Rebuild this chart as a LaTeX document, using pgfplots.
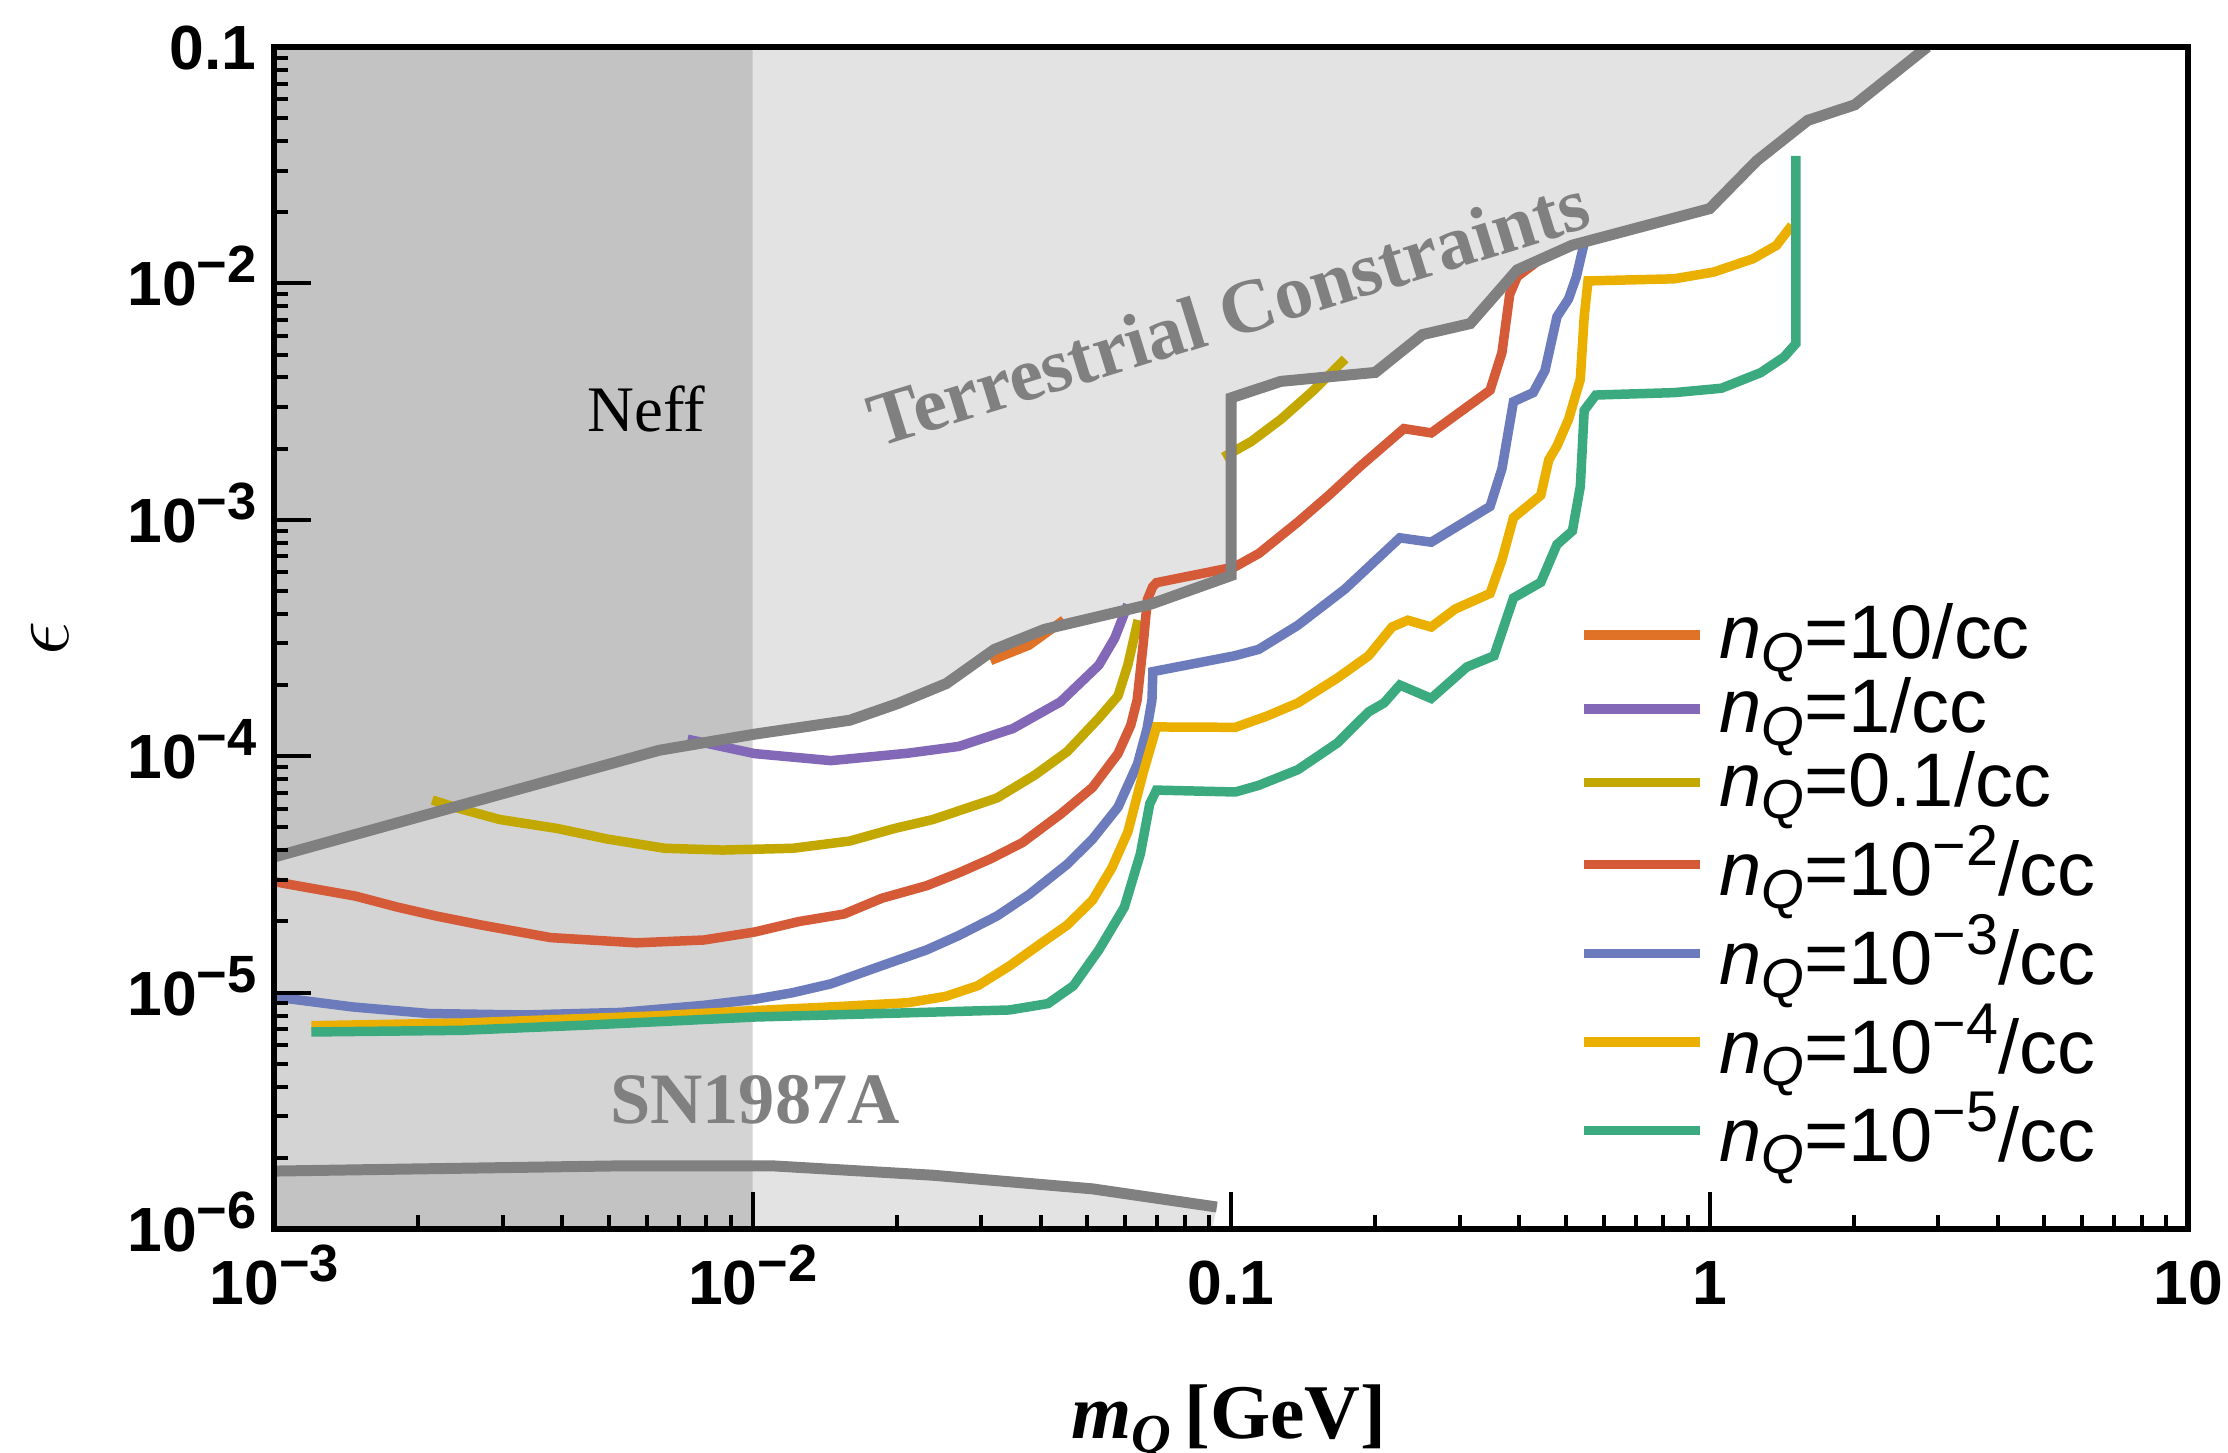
\documentclass[border=0pt]{standalone}
\usepackage{fontspec}
\setmainfont{Liberation Serif}
\setsansfont{Liberation Sans}
\usepackage{pgfplots}
\pgfplotsset{compat=1.18}
\definecolor{cOrange}{RGB}{224,114,40}
\definecolor{cPurple}{RGB}{132,104,184}
\definecolor{cOlive}{RGB}{194,168,0}
\definecolor{cRed}{RGB}{212,90,56}
\definecolor{cBlue}{RGB}{107,123,187}
\definecolor{cGold}{RGB}{235,175,0}
\definecolor{cGreen}{RGB}{59,170,126}
\definecolor{cGrayLine}{RGB}{128,128,128}
\definecolor{cFill}{RGB}{227,227,227}
\definecolor{cNeff}{RGB}{146,146,146}
\newcommand{\nQ}{\textit{n}\raisebox{-2.5pt}{\fontsize{11}{12}\selectfont\textit{Q}}}
\newcommand{\lsup}[1]{\raisebox{6pt}{\fontsize{11.5}{12}\selectfont #1}}
\newcommand{\tsup}[1]{\raisebox{4.6pt}{\fontsize{10.5}{11}\selectfont #1}}
\begin{document}
\begin{tikzpicture}
\begin{axis}[
  scale only axis,
  width=134.7mm, height=83.2mm,
  xmode=log, ymode=log,
  xmin=1e-3, xmax=10, ymin=1e-6, ymax=0.1,
  axis on top,
  axis line style={line width=1.2pt, black},
  xtick={0.001,0.01,0.1,1,10},
  xticklabels={10\tsup{−3},10\tsup{−2},0.1,1,10},
  ytick={1e-6,1e-5,1e-4,1e-3,1e-2,0.1},
  yticklabels={10\tsup{−6},10\tsup{−5},10\tsup{−4},10\tsup{−3},10\tsup{−2},0.1},
  xtick pos=left, ytick pos=left,
  tick align=inside,
  major tick length=2.6mm, minor tick length=1mm,
  tick style={line width=0.8pt, black},
  xticklabel style={font=\fontsize{12.5}{14}\selectfont\sffamily\bfseries, anchor=base, yshift=-15pt},
  yticklabel style={font=\fontsize{12.5}{14}\selectfont\sffamily\bfseries, anchor=base east, yshift=-4.5pt},
  xlabel={\textbf{\textit{m}}\raisebox{-3pt}{\fontsize{11}{12}\selectfont\textbf{\textit{Q}}}\,\textbf{[GeV]}},
  xlabel style={at={(axis description cs:0.4989,-0.1767)}, anchor=base, inner sep=0pt, font=\fontsize{15.5}{17}\selectfont},
  ylabel={$\epsilon$},
  ylabel style={at={(axis description cs:-0.1173,0.5)}, anchor=center, font=\fontsize{17}{19}\selectfont},
  legend image code/.code={\draw[#1] (0mm,0mm) -- (8.2mm,0mm);},
  legend cell align=left,
  legend style={draw=none, fill=none, inner sep=0pt,
    at={(0.6812,0.530)}, anchor=north west,
    nodes={inner sep=0pt}, row sep=2.3pt, column sep=1mm,
    font=\fontsize{15.2}{17}\selectfont\sffamily},
]
\addplot[forget plot, fill=cFill, draw=none] coordinates {
(0.001,3.75e-5) (0.00638,1.06e-4) (0.0101,1.24e-4) (0.01596,1.42e-4) (0.0201,1.67e-4)
(0.0254,2.03e-4) (0.032,2.83e-4) (0.0407,3.44e-4) (0.068,4.4e-4) (0.1,5.81e-4) (0.1,3.28e-3)
(0.127,3.85e-3) (0.2,4.2e-3) (0.251,6.07e-3) (0.316,6.76e-3) (0.396,1.14e-2) (0.516,1.45e-2)
(1.0,2.07e-2) (1.254,3.3e-2) (1.603,4.89e-2) (2.01,5.69e-2) (2.85,0.1) (0.001,0.1) (0.001,3.75e-5)};
\addplot[forget plot, fill=cFill, draw=none] coordinates {
(0.001,1e-6) (0.001,1.76e-6) (0.00513,1.85e-6) (0.0111,1.85e-6) (0.0238,1.69e-6)
(0.0513,1.48e-6) (0.0933,1.24e-6) (0.0912,1e-6) (0.001,1e-6)};
\addplot[forget plot, fill=cNeff, fill opacity=0.393, draw=none] coordinates {
(0.001,1e-6) (0.01,1e-6) (0.01,0.1) (0.001,0.1) (0.001,1e-6)};
\addplot[color=cOrange, line width=1.9pt] coordinates {
(0.0314,2.54e-4) (0.0378,2.95e-4) (0.0447,3.77e-4)};
\addlegendentry{{\nQ=10/cc}}
\addplot[color=cPurple, line width=1.9pt] coordinates {
(0.00731,1.18e-4) (0.01009,1.026e-4) (0.01457,9.58e-5) (0.0211,1.03e-4) (0.02694,1.10e-4)
(0.035,1.31e-4) (0.044,1.70e-4) (0.0529,2.43e-4) (0.0571,3.16e-4) (0.0608,4.38e-4)};
\addlegendentry{{\nQ=1/cc}}
\addplot[color=cOlive, line width=1.9pt] coordinates {
(0.00214,6.53e-5) (0.00238,6.09e-5) (0.00296,5.40e-5) (0.0039,4.95e-5) (0.00498,4.46e-5)
(0.00655,4.08e-5) (0.00865,4.01e-5) (0.01213,4.08e-5) (0.01596,4.38e-5) (0.0198,4.95e-5)
(0.0238,5.40e-5) (0.0324,6.66e-5) (0.0389,8.33e-5) (0.0454,1.045e-4) (0.0529,1.45e-4)
(0.058,1.80e-4) (0.0608,2.43e-4) (0.0639,3.77e-4)};
\addlegendentry{{\nQ=0.1/cc}}
\addplot[forget plot, color=cOlive, line width=1.9pt] coordinates {
(0.0963,1.84e-3) (0.110,2.14e-3) (0.127,2.66e-3) (0.1487,3.53e-3) (0.173,4.79e-3)};
\addplot[color=cRed, line width=1.9pt] coordinates {
(0.001,2.95e-5) (0.001056,2.89e-5) (0.00148,2.56e-5) (0.00181,2.30e-5) (0.00218,2.11e-5) (0.0027,1.935e-5)
(0.00378,1.71e-5) (0.00572,1.625e-5) (0.0079,1.67e-5) (0.0101,1.806e-5) (0.0125,2.00e-5)
(0.01551,2.15e-5) (0.01864,2.51e-5) (0.0231,2.835e-5) (0.02694,3.21e-5) (0.0314,3.68e-5)
(0.0366,4.31e-5) (0.044,5.69e-5) (0.0513,7.38e-5) (0.058,1.026e-4) (0.0617,1.356e-4)
(0.0636,1.73e-4) (0.0655,3.0e-4) (0.0668,4.6e-4) (0.0685,5.2e-4) (0.0698,5.42e-4)
(0.1017,6.32e-4) (0.1143,7.21e-4) (0.1378,9.78e-4) (0.160,1.27e-3) (0.1865,1.69e-3)
(0.2296,2.43e-3) (0.2618,2.33e-3) (0.3475,3.53e-3) (0.368,5.1e-3) (0.382,8.98e-3)
(0.396,1.067e-2) (0.4436,1.27e-2)};
\addlegendentry{{\nQ=10\lsup{−2}/cc}}
\addplot[color=cBlue, line width=1.9pt] coordinates {
(0.001,9.6e-6) (0.00146,8.70e-6) (0.00211,8.16e-6) (0.00334,8.05e-6) (0.0053,8.25e-6)
(0.0079,8.84e-6) (0.0101,9.38e-6) (0.0121,9.99e-6) (0.01457,1.09e-5) (0.01808,1.274e-5)
(0.0231,1.517e-5) (0.02694,1.744e-5) (0.0324,2.11e-5) (0.0378,2.60e-5) (0.0454,3.49e-5)
(0.0513,4.46e-5) (0.058,6.09e-5) (0.0637,9.27e-5) (0.0667,1.31e-4) (0.0683,1.73e-4)
(0.0686,2.28e-4) (0.1017,2.66e-4) (0.1141,2.83e-4) (0.1378,3.58e-4) (0.173,5.10e-4)
(0.2251,8.39e-4) (0.2618,8.04e-4) (0.3475,1.139e-3) (0.368,1.645e-3) (0.389,3.16e-3)
(0.4276,3.45e-3) (0.4527,4.28e-3) (0.4794,7.22e-3) (0.507,8.59e-3) (0.5264,1.067e-2)
(0.5466,1.48e-2)};
\addlegendentry{{\nQ=10\lsup{−3}/cc}}
\addplot[color=cGold, line width=1.9pt] coordinates {
(0.001196,7.25e-6) (0.00246,7.44e-6) (0.00618,7.97e-6) (0.0101,8.40e-6) (0.0155,8.76e-6)
(0.0211,9.07e-6) (0.02533,9.65e-6) (0.02954,1.07e-5) (0.0344,1.297e-5) (0.0402,1.625e-5)
(0.0454,1.93e-5) (0.0513,2.46e-5) (0.0563,3.37e-5) (0.0608,4.78e-5) (0.0656,8.63e-5)
(0.0698,1.33e-4) (0.102,1.325e-4) (0.1186,1.477e-4) (0.1378,1.68e-4) (0.1666,2.14e-4)
(0.1937,2.66e-4) (0.2168,3.52e-4) (0.2339,3.76e-4) (0.2618,3.52e-4) (0.2936,4.19e-4)
(0.3475,4.88e-4) (0.368,6.77e-4) (0.389,1.02e-3) (0.4436,1.27e-3) (0.461,1.795e-3)
(0.4794,2.05e-3) (0.507,2.66e-3) (0.5365,3.93e-3) (0.5466,7.22e-3) (0.5567,1.024e-2)
(0.843,1.045e-2) (1.019,1.116e-2) (1.231,1.27e-2) (1.378,1.446e-2) (1.485,1.76e-2)};
\addlegendentry{{\nQ=10\lsup{−4}/cc}}
\addplot[color=cGreen, line width=1.9pt] coordinates {
(0.001196,6.82e-6) (0.00246,6.93e-6) (0.00454,7.30e-6) (0.0101,7.89e-6) (0.0211,8.22e-6)
(0.0344,8.45e-6) (0.0414,8.99e-6) (0.0468,1.07e-5) (0.0529,1.517e-5) (0.0598,2.30e-5)
(0.0646,3.87e-5) (0.0676,6.31e-5) (0.0698,7.19e-5) (0.102,7.06e-5) (0.1141,7.53e-5)
(0.1378,8.77e-5) (0.1666,1.137e-4) (0.1937,1.54e-4) (0.2086,1.68e-4) (0.2251,2.00e-4)
(0.2618,1.756e-4) (0.3108,2.385e-4) (0.3542,2.66e-4) (0.389,4.67e-4) (0.4436,5.44e-4)
(0.4794,7.86e-4) (0.5164,8.97e-4) (0.5365,1.384e-3) (0.5466,2.90e-3) (0.578,3.37e-3)
(0.843,3.45e-3) (1.058,3.60e-3) (1.278,4.19e-3) (1.43,4.88e-3) (1.514,5.56e-3) (1.514,3.46e-2)};
\addlegendentry{{\nQ=10\lsup{−5}/cc}}
\addplot[forget plot, color=cGrayLine, line width=2.2pt] coordinates {
(0.001,3.75e-5) (0.00638,1.06e-4) (0.0101,1.24e-4) (0.01596,1.42e-4) (0.0201,1.67e-4)
(0.0254,2.03e-4) (0.032,2.83e-4) (0.0407,3.44e-4) (0.068,4.4e-4) (0.1,5.81e-4) (0.1,3.28e-3)
(0.127,3.85e-3) (0.2,4.2e-3) (0.251,6.07e-3) (0.316,6.76e-3) (0.396,1.14e-2) (0.516,1.45e-2)
(1.0,2.07e-2) (1.254,3.3e-2) (1.603,4.89e-2) (2.01,5.69e-2) (2.85,0.1)};
\addplot[forget plot, color=cGrayLine, line width=2.2pt] coordinates {
(0.001,1.76e-6) (0.00513,1.85e-6) (0.0111,1.85e-6) (0.0238,1.69e-6) (0.0513,1.48e-6) (0.0933,1.24e-6)};
\node[font=\fontsize{13}{15}\selectfont, anchor=base] at (axis cs:0.006,0.00236) {Neff};
\node[font=\fontsize{15.3}{17}\selectfont\bfseries, text=cGrayLine, rotate=17.2, anchor=center] at (axis cs:0.0986,7.57e-3) {Terrestrial Constraints};
\node[font=\fontsize{14.5}{17}\selectfont\bfseries, text=cGrayLine, anchor=base] at (axis cs:0.01011,2.80e-6) {SN1987A};
\end{axis}
\pgfresetboundingbox
\path[use as bounding box] (-19.3mm,-15.7mm) rectangle (137.5mm,86.5mm);
\end{tikzpicture}
\end{document}
